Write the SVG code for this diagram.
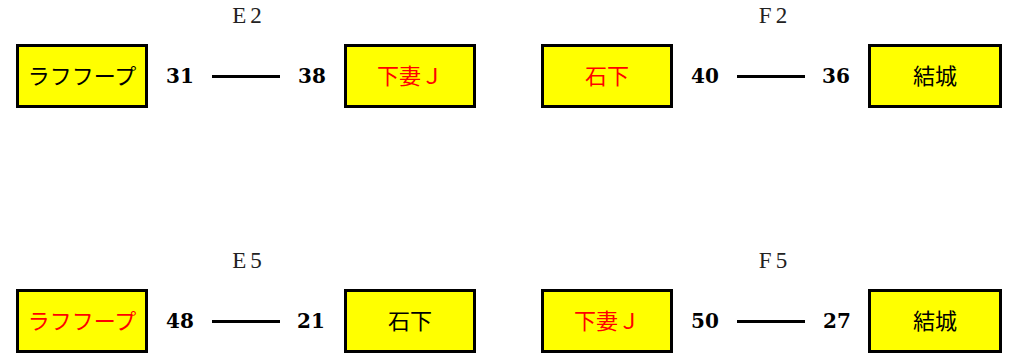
<svg xmlns="http://www.w3.org/2000/svg" width="1011" height="357" viewBox="0 0 1011 357">
<style>
.box{fill:#ffff00;stroke:#000;stroke-width:3}
.lbl{font-family:"Noto Sans CJK JP","Liberation Serif",serif;font-size:22px;text-anchor:middle}
.red{fill:#ff0000}
.blk{fill:#000}
.num{font-family:"DejaVu Serif",serif;font-weight:bold;font-size:20px;text-anchor:middle;fill:#000}
.ttl{font-family:"Liberation Serif",serif;font-size:23px;text-anchor:middle;fill:#222;letter-spacing:4px}
.conn{stroke:#000;stroke-width:3}
</style>
<rect width="1011" height="357" fill="#fff"/>
<g id="node-e2-left"><rect class="box" x="17.5" y="45.5" width="129" height="61"/><text class="lbl blk" x="82" y="84">ラフフープ</text></g>
<g id="node-e2-right"><rect class="box" x="345.5" y="45.5" width="129" height="61"/><text class="lbl red" x="410" y="84">下妻Ｊ</text></g>
<g id="node-f2-left"><rect class="box" x="542.5" y="45.5" width="129" height="61"/><text class="lbl red" x="607" y="84">石下</text></g>
<g id="node-f2-right"><rect class="box" x="869.5" y="45.5" width="131" height="61"/><text class="lbl blk" x="935" y="84">結城</text></g>
<g id="node-e5-left"><rect class="box" x="17.5" y="290.5" width="129" height="61"/><text class="lbl red" x="82" y="329">ラフフープ</text></g>
<g id="node-e5-right"><rect class="box" x="345.5" y="290.5" width="129" height="61"/><text class="lbl blk" x="410" y="329">石下</text></g>
<g id="node-f5-left"><rect class="box" x="542.5" y="290.5" width="129" height="61"/><text class="lbl red" x="607" y="329">下妻Ｊ</text></g>
<g id="node-f5-right"><rect class="box" x="869.5" y="290.5" width="131" height="61"/><text class="lbl blk" x="935" y="329">結城</text></g>
<g id="connectors">
<line class="conn" x1="212" y1="76.5" x2="280" y2="76.5"/>
<line class="conn" x1="737" y1="76.5" x2="805" y2="76.5"/>
<line class="conn" x1="212" y1="321.5" x2="280" y2="321.5"/>
<line class="conn" x1="737" y1="321.5" x2="805" y2="321.5"/>
</g>
<g id="labels">
<text class="ttl" x="249" y="23">E2</text>
<text class="ttl" x="775" y="23">F2</text>
<text class="ttl" x="249" y="268">E5</text>
<text class="ttl" x="775" y="268">F5</text>
<text class="num" x="180" y="83">31</text>
<text class="num" x="312" y="83">38</text>
<text class="num" x="705" y="83">40</text>
<text class="num" x="836" y="83">36</text>
<text class="num" x="180" y="328">48</text>
<text class="num" x="311" y="328">21</text>
<text class="num" x="705" y="328">50</text>
<text class="num" x="837" y="328">27</text>
</g>
</svg>
